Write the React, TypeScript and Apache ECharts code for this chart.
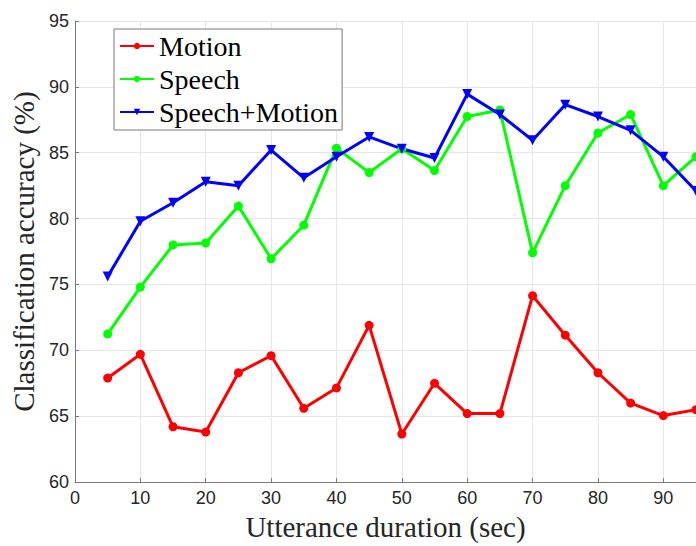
import React, { useEffect, useRef } from "react";
import * as echarts from "echarts";

const durations = [5, 10, 15, 20, 25, 30, 35, 40, 45, 50, 55, 60, 65, 70, 75, 80, 85, 90, 95];
const motion = [67.9, 69.7, 64.2, 63.8, 68.3, 69.6, 65.6, 67.15, 71.9, 63.65, 67.5, 65.2, 65.2, 74.15, 71.15, 68.3, 66.0, 65.05, 65.5];
const speech = [71.25, 74.8, 78.0, 78.15, 80.95, 76.95, 79.5, 85.35, 83.5, 85.3, 83.65, 87.75, 88.25, 77.4, 82.5, 86.5, 87.9, 82.5, 84.7];
const speechMotion = [75.6, 79.8, 81.2, 82.8, 82.5, 85.2, 83.1, 84.7, 86.2, 85.3, 84.6, 89.45, 87.9, 85.95, 88.65, 87.75, 86.7, 84.7, 82.1];

const seriesNames = ["Motion", "Speech", "Speech+Motion"];
const xTitle = "Utterance duration (sec)";
const yTitle = "Classification accuracy (%)";

const pairs = (ys: number[]) => durations.map((x, i) => [x, ys[i]]);

export default function App() {
  const ref = useRef<HTMLDivElement>(null);
  useEffect(() => {
    if (!ref.current) return;
    const chart = echarts.init(ref.current, null, { renderer: "svg", width: 696, height: 546 });
    const serif = "'Liberation Serif', 'Times New Roman', serif";
    const sans = "'Liberation Sans', Arial, sans-serif";
    const tickColor = "#262626";
    const axisColor = "#7a7a7a";
    const mk = (name: string, data: number[], color: string, symbol: string, rotate: number, size: number) => ({
      name,
      type: "line",
      data: pairs(data),
      symbol,
      symbolSize: size,
      symbolRotate: rotate,
      showAllSymbol: true,
      lineStyle: { color, width: 3 },
      itemStyle: { color, borderWidth: 0 },
      clip: false,
    });
    chart.setOption({
      animation: false,
      backgroundColor: "#ffffff",
      grid: { left: 75, top: 21, width: 621, height: 470, containLabel: false },
      legend: {
        data: seriesNames,
        orient: "vertical",
        left: 114,
        top: 29,
        padding: [3, 4, 4, 5],
        itemGap: 5,
        itemWidth: 34,
        itemHeight: 8,
        backgroundColor: "#ffffff",
        borderColor: "#7a7a7a",
        borderWidth: 1,
        borderRadius: 0,
        textStyle: { fontFamily: serif, fontSize: 28, color: "#000", lineHeight: 28 },
      },
      xAxis: {
        type: "value",
        min: 0,
        max: 95,
        interval: 10,
        name: xTitle,
        nameLocation: "middle",
        nameGap: 27,
        nameTextStyle: { fontFamily: serif, fontSize: 29, color: tickColor },
        axisLine: { show: true, lineStyle: { color: axisColor, width: 1 } },
        axisTick: { show: true, inside: true, length: 4, lineStyle: { color: axisColor } },
        axisLabel: { fontFamily: sans, fontSize: 18, color: tickColor, margin: 7, showMaxLabel: false },
        splitLine: { show: true, lineStyle: { color: "#e6e6e6", width: 1 } },
      },
      yAxis: {
        type: "value",
        min: 60,
        max: 95,
        interval: 5,
        name: yTitle,
        nameLocation: "middle",
        nameGap: 30,
        nameTextStyle: { fontFamily: serif, fontSize: 29, color: tickColor },
        axisLine: { show: true, lineStyle: { color: axisColor, width: 1 } },
        axisTick: { show: true, inside: true, length: 4, lineStyle: { color: axisColor } },
        axisLabel: { fontFamily: sans, fontSize: 18, color: tickColor, margin: 6 },
        splitLine: { show: true, lineStyle: { color: "#e6e6e6", width: 1 } },
      },
      series: [
        mk(seriesNames[0], motion, "#ff0000", "circle", 0, 9),
        mk(seriesNames[1], speech, "#00ff00", "circle", 0, 9),
        mk(seriesNames[2], speechMotion, "#0000ff", "triangle", 180, 10),
      ],
    });
    return () => chart.dispose();
  }, []);
  return (
    <div
      ref={ref}
      style={{ position: "fixed", left: 0, top: 0, width: 696, height: 546, background: "#fff" }}
    />
  );
}
